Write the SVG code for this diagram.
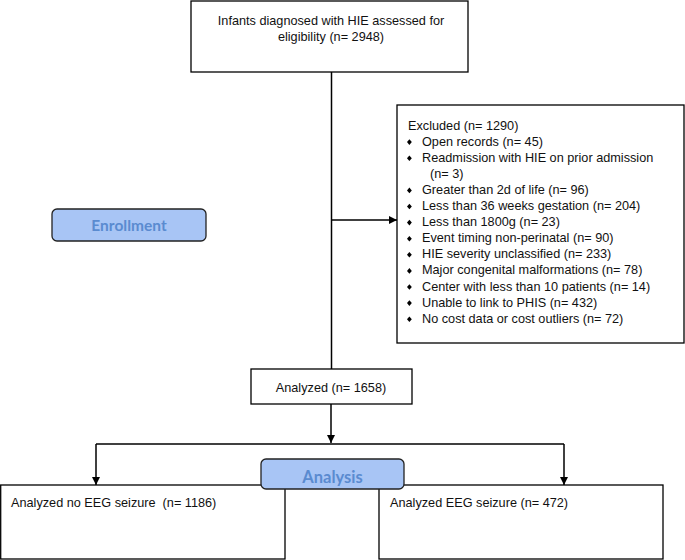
<svg xmlns="http://www.w3.org/2000/svg" width="685" height="560" viewBox="0 0 685 560">
<defs>
<marker id="arr" markerWidth="10" markerHeight="10" refX="9" refY="5" orient="auto" markerUnits="userSpaceOnUse">
<path d="M1,1 L9,5 L1,9 Z" fill="#000"/>
</marker>
<style>
.box{fill:#fff;stroke:#000;stroke-width:1.3}
.lbl{fill:#a8c5f5;stroke:#222;stroke-width:1.3}
.t{font-family:"Liberation Sans",Arial,sans-serif;font-size:12.7px;fill:#111}
.c{text-anchor:middle}
.h{font-family:Lato,"Open Sans",sans-serif;font-weight:bold;fill:#5a8bd0;text-anchor:middle}
.ln{stroke:#000;stroke-width:1.5;fill:none}
.bul{fill:#000}
</style>
</defs>
<rect width="685" height="560" fill="#fff"/>
<g id="connectors">
<line class="ln" x1="331.5" y1="72" x2="331.5" y2="369"/>
<line class="ln" x1="331.5" y1="220" x2="397" y2="220" marker-end="url(#arr)"/>
<line class="ln" x1="331" y1="404" x2="331" y2="443" marker-end="url(#arr)"/>
<line class="ln" x1="96" y1="444" x2="564" y2="444"/>
<line class="ln" x1="96" y1="444" x2="96" y2="485" marker-end="url(#arr)"/>
<line class="ln" x1="564" y1="444" x2="564" y2="485" marker-end="url(#arr)"/>
</g>
<g id="assessed">
<rect class="box" x="191" y="1" width="277" height="71"/>
<text class="t c" x="331" y="24.5">Infants diagnosed with HIE assessed for</text>
<text class="t c" x="331" y="40.5">eligibility (n= 2948)</text>
</g>
<g id="excluded">
<rect class="box" x="397" y="105" width="287" height="238"/>
<text class="t" x="408" y="129.5">Excluded  (n= 1290)</text>
<g class="bul">
<path d="M407,142.1 l2.4,-2.8 l2.4,2.8 l-2.4,2.8 Z"/>
<path d="M407,158.2 l2.4,-2.8 l2.4,2.8 l-2.4,2.8 Z"/>
<path d="M407,190.4 l2.4,-2.8 l2.4,2.8 l-2.4,2.8 Z"/>
<path d="M407,206.5 l2.4,-2.8 l2.4,2.8 l-2.4,2.8 Z"/>
<path d="M407,222.6 l2.4,-2.8 l2.4,2.8 l-2.4,2.8 Z"/>
<path d="M407,238.7 l2.4,-2.8 l2.4,2.8 l-2.4,2.8 Z"/>
<path d="M407,254.8 l2.4,-2.8 l2.4,2.8 l-2.4,2.8 Z"/>
<path d="M407,270.9 l2.4,-2.8 l2.4,2.8 l-2.4,2.8 Z"/>
<path d="M407,287.0 l2.4,-2.8 l2.4,2.8 l-2.4,2.8 Z"/>
<path d="M407,303.1 l2.4,-2.8 l2.4,2.8 l-2.4,2.8 Z"/>
<path d="M407,319.2 l2.4,-2.8 l2.4,2.8 l-2.4,2.8 Z"/>
</g>
<text class="t" x="422" y="145.6">Open records (n= 45)</text>
<text class="t" x="422" y="161.7">Readmission with HIE on prior admission</text>
<text class="t" x="430" y="177.8">(n= 3)</text>
<text class="t" x="422" y="193.9">Greater than 2d of life (n= 96)</text>
<text class="t" x="422" y="210">Less than 36 weeks gestation (n= 204)</text>
<text class="t" x="422" y="226.1">Less than 1800g (n= 23)</text>
<text class="t" x="422" y="242.2">Event timing non-perinatal (n= 90)</text>
<text class="t" x="422" y="258.3">HIE severity unclassified (n= 233)</text>
<text class="t" x="422" y="274.4">Major congenital malformations (n= 78)</text>
<text class="t" x="422" y="290.5">Center with less than 10 patients (n= 14)</text>
<text class="t" x="422" y="306.6">Unable to link to PHIS (n= 432)</text>
<text class="t" x="422" y="322.7">No cost data or cost outliers (n= 72)</text>
</g>
<g id="enrollment">
<rect class="lbl" x="52" y="209" width="154" height="32" rx="5"/>
<text class="h" x="129" y="230.5" font-size="15.5">Enrollment</text>
</g>
<g id="analyzed">
<rect class="box" x="251" y="369" width="161" height="35"/>
<text class="t c" x="331" y="391.5">Analyzed (n= 1658)</text>
</g>
<g id="no-seizure">
<rect class="box" x="0.7" y="485" width="284.3" height="74"/>
<text class="t" x="11" y="507" xml:space="preserve">Analyzed no EEG seizure  (n= 1186)</text>
</g>
<g id="seizure">
<rect class="box" x="379" y="485" width="284" height="74"/>
<text class="t" x="390" y="507">Analyzed EEG seizure (n= 472)</text>
</g>
<g id="analysis">
<rect class="lbl" x="261" y="459" width="143" height="30" rx="5"/>
<text class="h" x="332.5" y="482.5" font-size="16.5">Analysis</text>
</g>
</svg>
